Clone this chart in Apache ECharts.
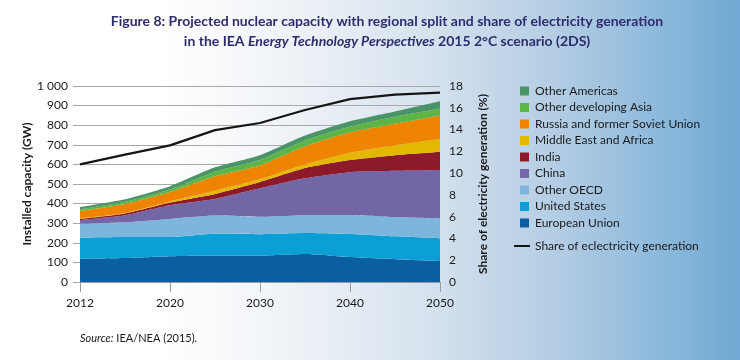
<!DOCTYPE html>
<html>
<head>
<meta charset="utf-8">
<script src="https://cdn.jsdelivr.net/npm/echarts@6/dist/echarts.min.js"></script>
<style>
html,body{margin:0;padding:0;}
body{width:740px;height:360px;background:linear-gradient(90deg,#ffffff 0%,#ffffff 22%,#eef2f7 40%,#d6e2ee 58%,#b4cde4 75%,#8ab8db 90%,#70a9d3 100%);}
#chart{width:740px;height:360px;}
</style>
</head>
<body>
<div id="chart"></div>
<script>
const years = ['2012','2015','2020','2025','2030','2035','2040','2045','2050'];
const europeanUnion     = [118, 122, 131, 135, 135, 143, 127, 116, 107];
const unitedStates      = [108, 107,  98, 111, 109, 107, 118, 117, 116];
const otherOECD         = [ 72,  76,  93,  93,  89,  91,  97,  98, 100];
const china             = [ 18,  36,  70,  85, 145, 188, 218, 236, 248];
const india             = [  6,   8,  13,  25,  32,  52,  62,  80,  94];
const middleEastAfrica  = [  2,   3,   6,  16,  15,  19,  38,  51,  65];
const russiaFSU         = [ 38,  46,  48,  75,  70,  92, 104, 110, 120];
const otherDevAsia      = [  8,  11,  13,  23,  28,  30,  29,  35,  35];
const otherAmericas     = [ 12,  13,  17,  22,  24,  25,  27,  27,  37];
const shareElectricity  = [10.8, 11.7, 12.55, 13.95, 14.6, 15.8, 16.8, 17.2, 17.4];

const areaNames = ['European Union','United States','Other OECD','China','India','Middle East and Africa','Russia and former Soviet Union','Other developing Asia','Other Americas'];
const areaData = [europeanUnion,unitedStates,otherOECD,china,india,middleEastAfrica,russiaFSU,otherDevAsia,otherAmericas];
const areaColors = ['#0a5fa3','#0b9fd6','#7cb6dc','#7366a6','#8c1a2b','#e5b800','#ef8400','#5db545','#4a9468'];
const lineName = 'Share of eclectricity generation';

const FONT = 'Lato, "Open Sans", sans-serif';
const chart = echarts.init(document.getElementById('chart'), null, {renderer:'canvas'});

const series = areaNames.map((n,i)=>({
  name:n, type:'line', stack:'total', data:areaData[i], symbol:'none', smooth:0.2,
  lineStyle:{width:0}, areaStyle:{color:areaColors[i], opacity:1}, itemStyle:{color:areaColors[i]}, z:2
}));
series.push({
  name:lineName, type:'line', yAxisIndex:1, data:shareElectricity, symbol:'none',
  lineStyle:{color:'#151515', width:2.2}, itemStyle:{color:'#151515'}, z:5
});

const titleColor = '#2d2c6c';
chart.setOption({
  backgroundColor:'transparent',
  animation:false,
  textStyle:{fontFamily:FONT},
  grid:{left:80, right:300, top:86, bottom:78},
  xAxis:{
    type:'category', data:years, boundaryGap:false,
    axisLine:{show:true, lineStyle:{color:'#9a9a9a', width:1}},
    axisTick:{show:true, interval:1, length:10, lineStyle:{color:'#9a9a9a'}},
    axisLabel:{interval:1, color:'#1a1a1a', fontSize:12, margin:15, fontFamily:FONT},
    splitLine:{show:false}
  },
  yAxis:[{
    type:'value', min:0, max:1000, interval:100,
    name:'Installed capacity (GW)', nameLocation:'middle', nameGap:46,
    nameTextStyle:{fontSize:12, color:'#1a1a1a', fontWeight:'bold', fontFamily:FONT},
    axisLine:{show:false},
    axisTick:{show:true, length:7, lineStyle:{color:'#a8a8a8'}},
    axisLabel:{color:'#1a1a1a', fontSize:12, margin:12, fontFamily:FONT,
      formatter:v=>v>=1000? String(v).replace(/\B(?=(\d{3})+(?!\d))/g,' ') : String(v)},
    splitLine:{show:true, lineStyle:{color:'#a8a8a8', width:1}}
  },{
    type:'value', min:0, max:18, interval:2,
    name:'Share of electricity generation (%)', nameLocation:'middle', nameGap:37, nameRotate:90,
    nameTextStyle:{fontSize:12, color:'#1a1a1a', fontWeight:'bold', fontFamily:FONT},
    axisLine:{show:false}, axisTick:{show:false},
    axisLabel:{color:'#1a1a1a', fontSize:12, margin:9, fontFamily:FONT},
    splitLine:{show:false}
  }],
  legend:[{
    orient:'vertical', left:520, top:84, padding:0,
    itemWidth:9, itemHeight:9, itemGap:2.5, icon:'rect',
    data:areaNames.slice().reverse(),
    textStyle:{fontSize:12, color:'#1a1a1a', lineHeight:14, fontFamily:FONT, padding:[0,0,0,1]},
    selectedMode:false
  },{
    orient:'vertical', left:514, top:239, padding:0,
    itemWidth:16, itemHeight:2, icon:'rect',
    data:[lineName],
    textStyle:{fontSize:12, color:'#1a1a1a', lineHeight:14, fontFamily:FONT},
    selectedMode:false
  }],
  graphic:[{
    type:'text', x:387, y:14,
    style:{
      text:'Figure 8: Projected nuclear capacity with regional split and share of electricity generation',
      textAlign:'center', fontSize:14, fontWeight:'bold', fill:titleColor, fontFamily:FONT
    }
  },{
    type:'text', x:387, y:34,
    style:{
      text:'{b|in the IEA }{bi|Energy Technology Perspectives}{b| 2015 2°C scenario (2DS)}',
      textAlign:'center',
      rich:{
        b:{fontSize:14, fontWeight:'bold', fill:titleColor, fontFamily:FONT},
        bi:{fontSize:14, fontWeight:'bold', fontStyle:'italic', fill:titleColor, fontFamily:FONT}
      }
    }
  },{
    type:'text', left:80, top:333,
    style:{
      text:'{i|Source:}{n| IEA/NEA (2015).}',
      rich:{
        i:{fontSize:11, fontStyle:'italic', fill:'#1a1a1a', fontFamily:FONT},
        n:{fontSize:11, fill:'#1a1a1a', fontFamily:FONT}
      }
    }
  }],
  series:series
});
</script>
</body>
</html>
